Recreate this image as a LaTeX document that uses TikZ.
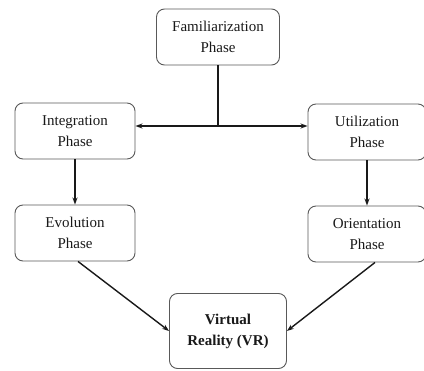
\documentclass[tikz,border=0pt]{standalone}
\usepackage{fontspec}
\setmainfont{Liberation Serif}
\usepackage{tikz}
\usetikzlibrary{arrows.meta}

\begin{document}
\begin{tikzpicture}[x=1pt,y=-1pt,line join=round,
    phase/.style={draw=black!65,line width=0.9pt,rounded corners=8pt,
      align=center,inner sep=0pt,minimum height=56pt,
      font=\fontsize{15}{21}\selectfont,text=black!90},
    arr/.style={-{Stealth[length=7pt,width=5pt]},line width=1.4pt,black!90}]
  \useasboundingbox (0,0) rectangle (424,371);
  \node[phase,minimum width=123pt] (fam) at (218,37) {Familiarization\\Phase};
  \node[phase,minimum width=120pt] (integ) at (75,131) {Integration\\Phase};
  \node[phase,minimum width=120pt] (evo) at (75,233) {Evolution\\Phase};
  \node[phase,minimum width=118pt] (util) at (367,132) {Utilization\\Phase};
  \node[phase,minimum width=118pt] (ori) at (367,234) {Orientation\\Phase};
  \node[phase,minimum width=117pt,minimum height=75pt,
    font=\fontsize{15}{21}\selectfont\bfseries] (vr) at (228,331) {Virtual\\Reality (VR)};
  \coordinate (hub) at (218,126);
  \draw[line width=1.4pt,black!90] (fam) -- (hub);
  \draw[arr] (hub) -- (hub -| integ.east);
  \draw[arr] (hub) -- (hub -| util.west);
  \draw[arr] (integ) -- (evo);
  \draw[arr] (util.south -| ori) -- (ori);
  \draw[arr] ([xshift=3pt]evo.south) -- (vr.west);
  \draw[arr] ([xshift=8pt]ori.south) -- (vr.east);
\end{tikzpicture}
\end{document}
